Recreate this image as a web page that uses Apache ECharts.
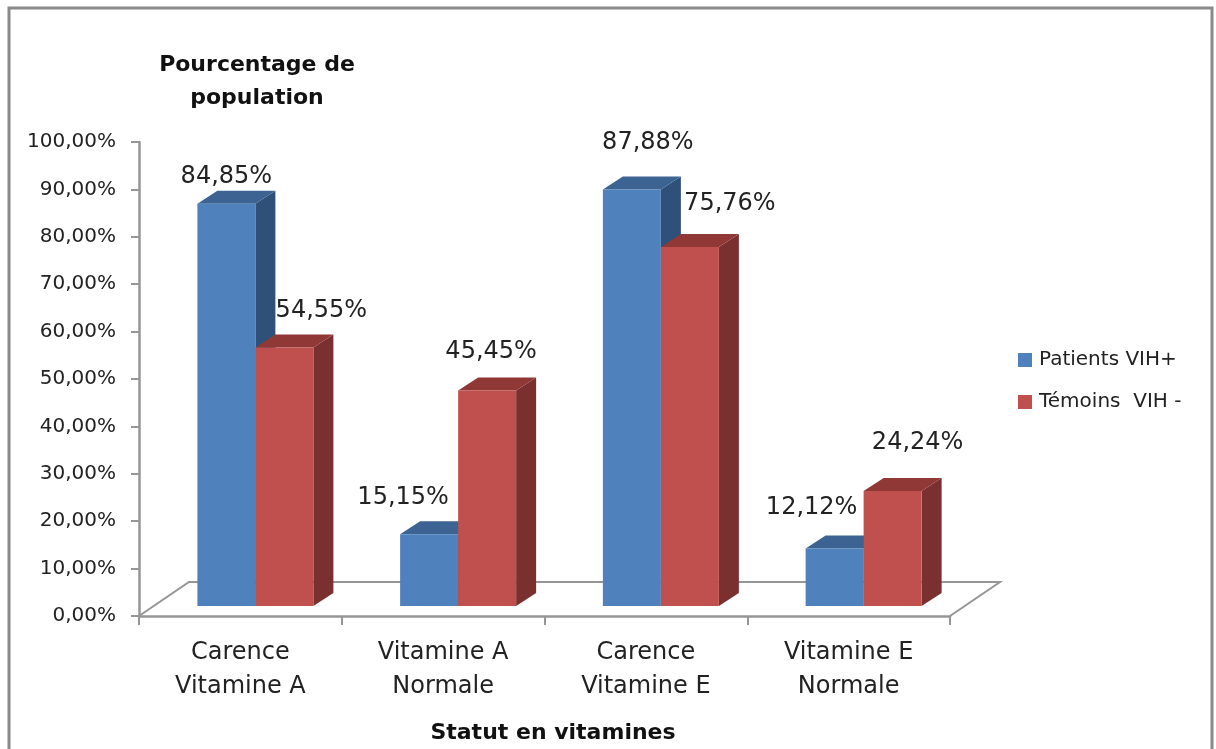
<!DOCTYPE html>
<html>
<head>
<meta charset="utf-8">
<style>
  html, body { margin: 0; padding: 0; background: #fff; overflow: hidden; }
  #chart { width: 1216px; height: 749px; }
</style>
<script src="https://cdn.jsdelivr.net/npm/echarts@6/dist/echarts.min.js"></script>
</head>
<body>
<div id="chart"></div>
<script>
const categories = ['Carence\nVitamine A', 'Vitamine A\nNormale', 'Carence\nVitamine E', 'Vitamine E\nNormale']
const patients = [84.85, 15.15, 87.88, 12.12]
const temoins = [54.55, 45.45, 75.76, 24.24]
const yTicks = { min: 0, max: 100, interval: 10 }

const FONT = '"DejaVu Sans", sans-serif'
const TEXT = '#222'
const AXIS = '#969696'

// faux 3D depth of the bars and of the floor, in px
const DEPTH_X = 20
const DEPTH_Y = 13
const FLOOR_X = 50
const FLOOR_Y = 34
const BAR_W = 58

// hand placed labels, like in the original chart [dx, dy] from the bar's top centre
const blueLabelShift = [[0, -27], [-26, -36], [16, -47], [-23, -41]]
const redLabelShift = [[37, -37], [4, -39], [40, -43], [25, -48]]

function fmt(v) {
  return v.toFixed(2).replace('.', ',') + '%'
}

function bar3d(side, colors, labelShift) {
  return function (params, api) {
    const cat = api.value(0)
    const val = api.value(1)
    const base = api.coord([cat, 0])
    const top = api.coord([cat, val])
    // the bars stand in the middle of the floor, not on its front edge
    const cx = base[0] + FLOOR_X / 2 - 10
    const y0 = base[1] - 10
    const y1 = top[1] - 10
    const x0 = side < 0 ? cx - BAR_W : cx
    const x1 = x0 + BAR_W
    const shift = labelShift[params.dataIndex]
    return {
      type: 'group',
      children: [
        {
          type: 'polygon',
          shape: { points: [[x1, y0], [x1 + DEPTH_X, y0 - DEPTH_Y], [x1 + DEPTH_X, y1 - DEPTH_Y], [x1, y1]] },
          style: { fill: colors.side }
        },
        {
          type: 'polygon',
          shape: { points: [[x0, y1], [x0 + DEPTH_X, y1 - DEPTH_Y], [x1 + DEPTH_X, y1 - DEPTH_Y], [x1, y1]] },
          style: { fill: colors.top }
        },
        {
          type: 'rect',
          shape: { x: x0, y: y1, width: BAR_W, height: y0 - y1 },
          style: { fill: colors.front }
        },
        {
          type: 'text',
          z2: 10,
          x: x0 + BAR_W / 2 + shift[0],
          y: y1 + shift[1],
          style: { text: fmt(val), font: '24px ' + FONT, fill: TEXT, align: 'center', verticalAlign: 'middle' }
        }
      ]
    }
  }
}

function floor(params, api) {
  if (params.dataIndex !== 0) {
    return
  }
  const band = api.size([1, 0])[0]
  const first = api.coord([0, 0])
  const last = api.coord([categories.length - 1, 0])
  const a = [first[0] - band / 2, first[1]]
  const b = [last[0] + band / 2, last[1]]
  return {
    type: 'polyline',
    shape: { points: [a, [a[0] + FLOOR_X, a[1] - FLOOR_Y], [b[0] + FLOOR_X, b[1] - FLOOR_Y], b] },
    style: { fill: 'none', stroke: AXIS, lineWidth: 2 }
  }
}

const blue = { front: '#4f81bd', side: '#2f5078', top: '#3c6391' }
const red = { front: '#c0504d', side: '#7a302f', top: '#8f3836' }

const chart = echarts.init(document.getElementById('chart'), null, { renderer: 'canvas' })

chart.setOption({
  animation: false,
  backgroundColor: '#fff',
  grid: { left: 139, right: 266, top: 142, bottom: 133 },
  title: [
    {
      text: 'Pourcentage de\npopulation',
      left: 252,
      top: 44,
      textAlign: 'center',
      textStyle: { fontFamily: FONT, fontSize: 22, fontWeight: 'bold', color: '#111', lineHeight: 33, align: 'center' }
    },
    {
      text: 'Statut en vitamines',
      left: 548,
      top: 717,
      textAlign: 'center',
      textStyle: { fontFamily: FONT, fontSize: 22, fontWeight: 'bold', color: '#111' }
    }
  ],
  legend: {
    orient: 'vertical',
    left: 1013,
    top: 345,
    itemWidth: 14,
    itemHeight: 14,
    itemGap: 22,
    icon: 'rect',
    textStyle: { fontFamily: FONT, fontSize: 20, color: TEXT, padding: [0, 0, 0, 2] },
    data: ['Patients VIH+', 'Témoins  VIH -']
  },
  xAxis: {
    type: 'category',
    data: categories,
    axisLine: { lineStyle: { color: AXIS, width: 2.5 } },
    axisTick: { show: true, length: 9, lineStyle: { color: AXIS, width: 2 } },
    axisLabel: { fontFamily: FONT, fontSize: 24, color: TEXT, lineHeight: 34, margin: 20 }
  },
  yAxis: {
    type: 'value',
    min: yTicks.min,
    max: yTicks.max,
    interval: yTicks.interval,
    splitLine: { show: false },
    axisLine: { show: true, lineStyle: { color: AXIS, width: 2.5 } },
    axisTick: { show: true, length: 8, lineStyle: { color: AXIS, width: 2 } },
    axisLabel: { fontFamily: FONT, fontSize: 20, color: TEXT, margin: 23, padding: [3, 0, 0, 0], formatter: v => fmt(v) }
  },
  graphic: [
    {
      type: 'rect',
      z: -1,
      shape: { x: 9, y: 8, width: 1203, height: 760 },
      style: { fill: 'none', stroke: '#8a8a8a', lineWidth: 3 }
    }
  ],
  series: [
    {
      type: 'custom',
      silent: true,
      z: 1,
      renderItem: floor,
      data: categories.map((c, i) => [i, 0])
    },
    {
      name: 'Patients VIH+',
      type: 'custom',
      z: 2,
      itemStyle: { color: blue.front },
      renderItem: bar3d(-1, blue, blueLabelShift),
      encode: { x: 0, y: 1 },
      data: patients.map((v, i) => [i, v])
    },
    {
      name: 'Témoins  VIH -',
      type: 'custom',
      z: 3,
      itemStyle: { color: red.front },
      renderItem: bar3d(1, red, redLabelShift),
      encode: { x: 0, y: 1 },
      data: temoins.map((v, i) => [i, v])
    }
  ]
})
</script>
</body>
</html>
